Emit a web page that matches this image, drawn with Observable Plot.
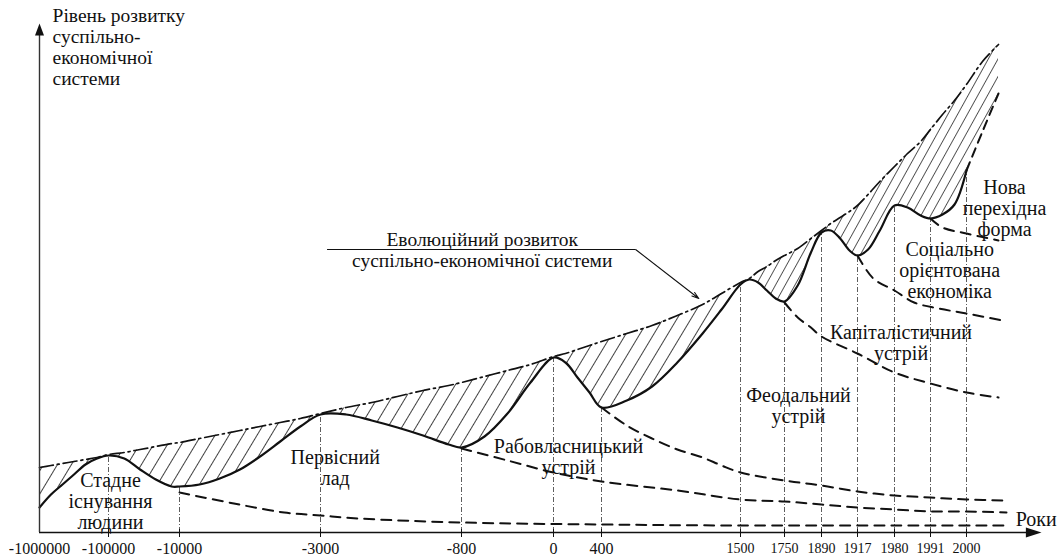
<!DOCTYPE html>
<html>
<head>
<meta charset="utf-8">
<script src="https://cdn.jsdelivr.net/npm/d3@7"></script>
<script src="https://cdn.jsdelivr.net/npm/@observablehq/plot@0.6"></script>
<style>
  html, body { margin: 0; padding: 0; background: #fff; }
  #chart svg { display: block; }
  #chart svg text, #chart svg g { font-family: "Liberation Serif", "Times New Roman", Times, serif !important; }
</style>
</head>
<body>
<div id="chart"></div>
<script>
// ---------- DATA ----------
const tickYears  = [-1000000, -100000, -10000, -3000, -800, 0, 400, 1500, 1750, 1890, 1917, 1980, 1991, 2000];
const tickLabels = ["-1000000", "-100000", "-10000", "-3000", "-800", "0", "400", "1500", "1750", "1890", "1917", "1980", "1991", "2000"];

// main wave (actual level) and evolutionary envelope, sampled at the same years
const years = [-1000000, -850000, -700000, -550000, -400000, -250000, -100000,
  -80000, -60000, -40000, -20000, -10000,
  -9000, -8000, -7000, -6000, -5000, -4000, -3000,
  -2600, -2200, -1800, -1400, -1000, -800,
  -600, -400, -200, 0,
  100, 200, 300, 400,
  600, 800, 1000, 1200, 1350, 1500,
  1550, 1600, 1650, 1700, 1750,
  1800, 1850, 1890,
  1897, 1904, 1911, 1917,
  1935, 1955, 1980,
  1984, 1988, 1991,
  1994, 1997, 2000,
  2004, 2008];
const actual = [25, 38, 48, 58, 68, 74, 77,
  74, 63, 53, 46, 46,
  48, 54, 63, 76, 91, 106, 118,
  118, 112, 105, 97, 88, 85,
  96, 119, 150, 175,
  170, 155, 140, 125,
  132, 146, 170, 199, 223, 248,
  253, 250, 242, 234, 231,
  247, 280, 300,
  302, 294, 282, 277,
  283, 302, 327,
  325, 317, 314,
  318, 328, 362,
  401, 439];
const envelope = [65, 67, 69, 71, 73, 75, 78,
  80, 83, 86, 89, 90,
  94, 98, 102, 106, 110, 114, 119,
  125, 130, 136, 142, 147, 150,
  156, 162, 168, 176,
  179, 183, 187, 191,
  199, 207, 217, 228, 239, 250,
  254, 261, 266, 272, 277,
  284, 294, 302,
  309, 315, 321, 327,
  338, 351, 366,
  379, 391, 403,
  418, 432, 448,
  471, 488];

// decaying (dashed) lines of each formation
const decay1Years  = [-10000, -7300, -4800, -3000, -2400, -800, 400, 1500, 2010];
const decay1Levels = [40, 29, 20, 17, 14, 10, 8, 7, 7];
const decay2Years  = [-800, -400, 0, 400, 1000, 1500, 1750, 1890, 1917, 1980, 1991, 2000, 2010];
const decay2Levels = [84, 72, 60, 51, 42, 33, 31, 28, 25, 23, 21, 21, 20];
const decay3Years  = [400, 600, 800, 1000, 1200, 1350, 1500, 1750, 1890, 1917, 1980, 1991, 2000, 2010];
const decay3Levels = [125, 107, 94, 83, 75, 67, 60, 52, 47, 41, 37, 35, 33, 32];
const decay4Years  = [1750, 1800, 1850, 1890, 1917, 1980, 1991, 2000, 2008];
const decay4Levels = [230, 215, 205, 196, 179, 160, 149, 140, 135];
const decay5Years  = [1917, 1944, 1980, 1986, 1993, 2000, 2009];
const decay5Levels = [277, 254, 242, 230, 224, 219, 212];
const decay6Years  = [1991, 1994, 2000, 2008];
const decay6Levels = [314, 305, 299, 292];

// stage labels
const stageNames  = ["Стадне\nіснування\nлюдини", "Первісний\nлад", "Рабовласницький\nустрій",
                     "Феодальний\nустрій", "Капіталістичний\nустрій",
                     "Соціально\nорієнтована\nекономіка", "Нова\nперехідна\nформа"];
const stageYears  = [-97500, -2770, 125, 1803, 1982, 1995.8, 2009.5];
const stageLevels = [31, 65, 76, 127, 190, 262, 324];

const yTitle = "Рівень розвитку\nсуспільно-\nекономічної\nсистеми";
const xTitle = "Роки";
const noteText = "Еволюційний розвиток\nсуспільно-економічної системи";

// ---------- BUILD ----------
const main = years.map((year, i) => ({year, actual: actual[i], envelope: envelope[i]}));
const lookup = new Map(main.map(d => [d.year, d.actual]));
const decays = [
  [decay1Years, decay1Levels], [decay2Years, decay2Levels], [decay3Years, decay3Levels],
  [decay4Years, decay4Levels], [decay5Years, decay5Levels], [decay6Years, decay6Levels]
].flatMap(([ys, ls], k) => ys.map((year, i) => ({series: k, year, level: ls[i]})));
const verticals = tickYears.slice(1).map(year => ({year, top: lookup.get(year)}));
const ticks = tickYears.map((year, i) => ({year, label: tickLabels[i]}));
const stages = stageNames.map((name, i) => ({name, year: stageYears[i], level: stageLevels[i]}));

const arrowUp = {draw(c, size) { const r = Math.sqrt(size / Math.PI);
  c.moveTo(0, -1.2 * r); c.lineTo(0.9 * r, 1.2 * r); c.lineTo(-0.9 * r, 1.2 * r); c.closePath(); }};
const arrowRight = {draw(c, size) { const r = Math.sqrt(size / Math.PI);
  c.moveTo(1.3 * r, 0); c.lineTo(-1.3 * r, 0.85 * r); c.lineTo(-1.3 * r, -0.85 * r); c.closePath(); }};

const serif = "Liberation Serif";
const ink = "#111";

const chart = Plot.plot({
  width: 1057,
  height: 556,
  margin: 0,
  style: {fontFamily: serif, background: "#fff", color: ink, overflow: "visible"},
  x: {type: "linear", domain: tickYears,
      range: [39, 108, 179, 320, 461, 553, 601, 740, 784, 821, 857, 894, 930, 966], axis: null},
  y: {domain: [0, 510], range: [532, 22], axis: null},
  marks: [
    // hatched gap between envelope and actual level
    Plot.areaY(main.filter(d => d.year <= 1500), {x: "year", y1: "actual", y2: "envelope",
      fill: "url(#hatchA)", curve: "catmull-rom"}),
    Plot.areaY(main.filter(d => d.year >= 1500), {x: "year", y1: "actual", y2: "envelope",
      fill: "url(#hatchB)", curve: "catmull-rom"}),
    // vertical guide lines
    Plot.ruleX(verticals, {x: "year", y1: 0, y2: "top", stroke: "#333", strokeWidth: 0.8,
      strokeDasharray: "5,2,1,2"}),
    // decaying formations
    Plot.line(decays, {x: "year", y: "level", z: "series", stroke: ink, strokeWidth: 2,
      strokeDasharray: "10,7", curve: "catmull-rom"}),
    // actual level
    Plot.line(main.filter(d => d.year <= 2000), {x: "year", y: "actual", stroke: ink,
      strokeWidth: 2.2, curve: "catmull-rom"}),
    Plot.line(main.filter(d => d.year >= 2000), {x: "year", y: "actual", stroke: ink,
      strokeWidth: 2, strokeDasharray: "9,6", curve: "catmull-rom"}),
    // evolutionary envelope
    Plot.line(main, {x: "year", y: "envelope", stroke: ink, strokeWidth: 1.7,
      strokeDasharray: "14,4,2,4", curve: "catmull-rom"}),
    // axes
    Plot.ruleY([0], {x1: -1000000, x2: 2015, stroke: ink, strokeWidth: 1.5}),
    Plot.ruleX([-1000000], {y1: 0, y2: 500, stroke: "#333", strokeWidth: 1.4}),
    Plot.dot([{x: -1000000, y: 503}], {x: "x", y: "y", symbol: arrowUp, r: 5, fill: ink, stroke: null}),
    Plot.dot([{x: 2016.8, y: 0}], {x: "x", y: "y", symbol: arrowRight, r: 6, fill: ink, stroke: null}),
    Plot.ruleX(ticks.slice(1), {x: "year", y1: -5, y2: 3, stroke: ink, strokeWidth: 1}),
    Plot.text(ticks.filter(d => d.year < 1000), {x: "year", y: 0, dy: 16, text: "label",
      fontSize: 16, fill: ink, fontFamily: serif}),
    Plot.text(ticks.filter(d => d.year >= 1000), {x: "year", y: 0, dy: 16, text: "label",
      fontSize: 14, fill: ink, fontFamily: serif}),
    Plot.text([{x: 2012.3, y: 0, t: xTitle}], {x: "x", y: "y", text: "t", dy: -13,
      textAnchor: "start", fontSize: 20, fill: ink, fontFamily: serif}),
    Plot.text([{x: -830000, y: 485.5, t: yTitle}], {x: "x", y: "y", text: "t",
      textAnchor: "start", fontSize: 19.5, lineHeight: 1.08, fill: ink, fontFamily: serif}),
    // stage labels
    Plot.text(stages, {x: "year", y: "level", text: "name", fontSize: 20, lineHeight: 1.05,
      fill: ink, fontFamily: serif}),
    // annotation for envelope
    Plot.text([{x: -620, y: 283, t: noteText}], {x: "x", y: "y", text: "t", fontSize: 19.5,
      lineHeight: 1.12, fill: ink, fontFamily: serif}),
    Plot.ruleY([283], {x1: -2890, x2: 670, stroke: ink, strokeWidth: 1}),
    Plot.arrow([{x1: 670, y1: 283, x2: 1170, y2: 234}], {x1: "x1", y1: "y1", x2: "x2", y2: "y2",
      stroke: ink, strokeWidth: 1.1, headLength: 10, headAngle: 35})
  ]
});

chart.insertAdjacentHTML("afterbegin",
  `<defs>
    <pattern id="hatchA" patternUnits="userSpaceOnUse" width="12" height="12" patternTransform="rotate(31)">
      <line x1="0" y1="-1" x2="0" y2="13" stroke="${ink}" stroke-width="1.6"/>
    </pattern>
    <pattern id="hatchB" patternUnits="userSpaceOnUse" width="8.5" height="8.5" patternTransform="rotate(29)">
      <line x1="0" y1="-1" x2="0" y2="10" stroke="${ink}" stroke-width="1.4"/>
    </pattern>
  </defs>`);
document.getElementById("chart").appendChild(chart);
</script>
</body>
</html>
